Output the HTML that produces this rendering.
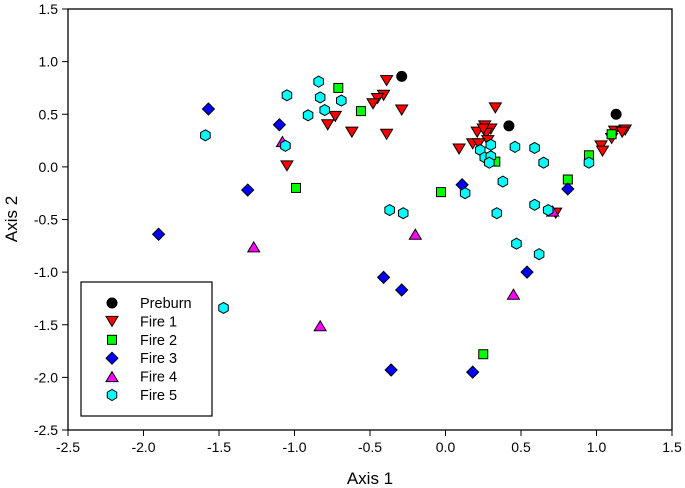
<!DOCTYPE html>
<html><head><meta charset="utf-8"><style>
body{margin:0;background:#fff}
svg{display:block;font-family:"Liberation Sans",Arial,sans-serif}
</style></head><body>
<svg id="chart" width="685" height="488"></svg>
<script>
const xTicks=[-2.5,-2.0,-1.5,-1.0,-0.5,0.0,0.5,1.0,1.5];
const yTicks=[-2.5,-2.0,-1.5,-1.0,-0.5,0.0,0.5,1.0,1.5];
const seriesNames=["Preburn","Fire 1","Fire 2","Fire 3","Fire 4","Fire 5"];
const preburn=[[-0.29,0.86],[0.42,0.39],[1.13,0.50]];
const fire1=[[-0.39,0.82],[-0.41,0.68],[-0.45,0.65],[-0.48,0.60],[-0.29,0.54],[-0.73,0.48],[-0.78,0.40],[-0.62,0.33],[-0.39,0.31],[-1.05,0.01],[0.33,0.56],[0.26,0.39],[0.30,0.36],[0.21,0.33],[0.27,0.32],[0.28,0.25],[0.18,0.22],[0.22,0.22],[0.09,0.17],[1.12,0.34],[1.19,0.35],[1.17,0.33],[1.03,0.20],[1.04,0.15],[1.10,0.27],[0.73,-0.44],[0.25,0.36]];
const fire2=[[-0.71,0.75],[-0.56,0.53],[-0.99,-0.20],[-0.03,-0.24],[0.33,0.05],[0.81,-0.12],[0.95,0.11],[1.10,0.31],[0.25,-1.78]];
const fire3=[[-1.57,0.55],[-1.10,0.40],[-1.31,-0.22],[-1.90,-0.64],[0.11,-0.17],[0.81,-0.21],[-0.41,-1.05],[-0.29,-1.17],[0.54,-1.00],[-0.36,-1.93],[0.18,-1.95]];
const fire4=[[-1.08,0.24],[-1.27,-0.76],[-0.20,-0.64],[-0.83,-1.51],[0.45,-1.21],[0.71,-0.42]];
const fire5=[[-0.84,0.81],[-1.05,0.68],[-0.83,0.66],[-0.69,0.63],[-0.80,0.54],[-0.91,0.49],[-1.59,0.30],[-1.06,0.20],[0.30,0.21],[0.46,0.19],[0.59,0.18],[0.23,0.16],[0.26,0.09],[0.30,0.10],[0.29,0.04],[0.65,0.04],[0.95,0.04],[0.38,-0.14],[0.13,-0.25],[-0.37,-0.41],[-0.28,-0.44],[0.34,-0.44],[0.59,-0.36],[0.68,-0.41],[0.47,-0.73],[0.62,-0.83],[-1.47,-1.34]];

const NS="http://www.w3.org/2000/svg";
const svg=document.getElementById('chart');
const L=68,R=672,T=9,B=430;
const X=v=>L+(v+2.5)/4*(R-L);
const Y=v=>T+(1.5-v)/4*(B-T);
function el(tag,attrs,parent){const e=document.createElementNS(NS,tag);for(const k in attrs)e.setAttribute(k,attrs[k]);(parent||svg).appendChild(e);return e;}
const frame=el('rect',{x:L,y:T,width:R-L,height:B-T,fill:'none',stroke:'#000','stroke-width':1.3});


xTicks.forEach(t=>{
 const l=el('line',{x1:X(t),x2:X(t),y1:B,y2:B+6,stroke:'#000'});
 
 
 const tx=el('text',{x:X(t),y:B+22,'text-anchor':'middle','font-size':14});
 tx.textContent=t.toFixed(1);
 
 
});
yTicks.forEach(t=>{
 const l=el('line',{x1:L-6,x2:L,y1:Y(t),y2:Y(t),stroke:'#000'});
 
 
 const tx=el('text',{x:L-10,y:Y(t)+5,'text-anchor':'end','font-size':14});
 tx.textContent=t.toFixed(1);
 
 
});
const xt=el('text',{x:370,y:484,'text-anchor':'middle','font-size':17});
xt.textContent='Axis 1';


const yt=el('text',{x:0,y:0,'text-anchor':'middle','font-size':17,transform:'translate(17,219) rotate(-90)'});
yt.textContent='Axis 2';



function marker(kind,cx,cy,parent){
 const s={stroke:'#000','stroke-width':1};
 if(kind===0)return el('circle',Object.assign({cx,cy,r:5,fill:'#000'},s),parent);
 if(kind===1)return el('polygon',Object.assign({points:`${cx-6},${cy-5} ${cx+6},${cy-5} ${cx},${cy+5}`,fill:'#f00'},s),parent);
 if(kind===2)return el('rect',Object.assign({x:cx-4.5,y:cy-4.5,width:9,height:9,fill:'#0f0'},s),parent);
 if(kind===3)return el('polygon',Object.assign({points:`${cx},${cy-6} ${cx+6},${cy} ${cx},${cy+6} ${cx-6},${cy}`,fill:'#00f'},s),parent);
 if(kind===4)return el('polygon',Object.assign({points:`${cx-6},${cy+5} ${cx+6},${cy+5} ${cx},${cy-5}`,fill:'#f0f'},s),parent);
 const p=[];for(let i=0;i<6;i++){const a=Math.PI/6+i*Math.PI/3;p.push((cx+5.5*Math.cos(a))+','+(cy+5.5*Math.sin(a)));}
 return el('polygon',Object.assign({points:p.join(' '),fill:'#0ff'},s),parent);
}
const allSeries=[preburn,fire1,fire2,fire3,fire4,fire5];
const seriesKeys=['preburn','fire-1','fire-2','fire-3','fire-4','fire-5'];
allSeries.forEach((arr,k)=>{
 const g=el('g',{});
 
 
 arr.forEach(d=>{
  const m=marker(k,X(d[0]),Y(d[1]),g);
  
  
 });
});
const lg=el('g',{});


el('rect',{x:81,y:282,width:131,height:134,fill:'#fff',stroke:'#000','stroke-width':1.2},lg);
seriesNames.forEach((n,k)=>{
 const cy=303+k*18.4;
 const m=marker(k,112,cy,lg);
 
 
 const t=el('text',{x:140,y:cy+5,'font-size':14.5},lg);
 t.textContent=n;
 
 
});
</script>
</body></html>
